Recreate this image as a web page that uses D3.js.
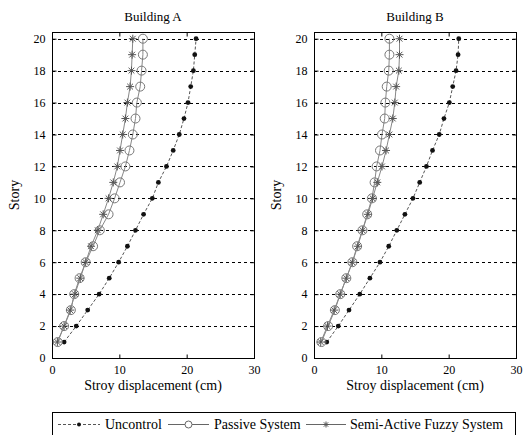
<!DOCTYPE html>
<html>
<head>
<meta charset="utf-8">
<script src="https://cdn.jsdelivr.net/npm/d3@7"></script>
<style>
  body { margin: 0; background: #fff; }
</style>
</head>
<body>
<div id="chart"></div>
<script>
// story levels 1..20
const stories = [1, 2, 3, 4, 5, 6, 7, 8, 9, 10, 11, 12, 13, 14, 15, 16, 17, 18, 19, 20];

// Building A displacements (cm)
const uncontrolA = [1.8, 3.6, 5.3, 7.0, 8.5, 9.9, 11.2, 12.4, 13.6, 14.9, 15.8, 17.0, 18.0, 18.9, 19.6, 20.2, 20.6, 21.0, 21.2, 21.4];
const passiveA   = [0.85, 1.8, 2.8, 3.3, 4.1, 5.0, 6.1, 7.1, 8.4, 9.3, 10.1, 10.9, 11.5, 12.0, 12.4, 12.6, 13.1, 13.3, 13.5, 13.5];
const fuzzyA     = [0.8, 1.8, 2.7, 3.4, 4.2, 5.0, 5.8, 6.8, 7.6, 8.4, 9.1, 9.7, 10.1, 10.5, 10.9, 11.2, 11.6, 11.8, 11.9, 12.0];

// Building B displacements (cm)
const uncontrolB = [1.9, 3.6, 5.2, 6.8, 8.3, 9.8, 11.1, 12.3, 13.5, 14.7, 15.7, 16.7, 17.6, 18.6, 19.3, 20.1, 20.6, 21.1, 21.4, 21.5];
const passiveB   = [1.1, 2.1, 3.1, 3.9, 4.8, 5.7, 6.4, 7.2, 7.9, 8.6, 9.0, 9.3, 9.8, 10.1, 10.5, 10.6, 10.8, 11.1, 11.2, 11.2];
const fuzzyB     = [1.0, 2.0, 3.0, 3.9, 4.8, 5.7, 6.5, 7.2, 8.0, 8.7, 9.4, 10.1, 10.7, 11.2, 11.7, 12.0, 12.2, 12.6, 12.7, 12.7];

const xTicks = [0, 10, 20, 30];
const yTicks = [0, 2, 4, 6, 8, 10, 12, 14, 16, 18, 20];
const gridTicks = [2, 4, 6, 8, 10, 12, 14, 16, 18, 20];
const legendLabels = ["Uncontrol", "Passive System", "Semi-Active Fuzzy System"];

const FONT = "Liberation Serif";

const svg = d3.select("#chart").append("svg")
    .attr("width", 528)
    .attr("height", 435)
    .attr("font-family", FONT);

// star marker (matlab '*')
function starPath(s) {
    const d = s * 0.72;
    return `M${-s},0L${s},0M0,${-s}L0,${s}M${-d},${-d}L${d},${d}M${-d},${d}L${d},${-d}`;
}

function styleAxis(a) {
    a.attr("font-family", FONT).attr("font-size", 12);
    a.select(".domain").remove();
    a.selectAll(".tick text").attr("fill", "#000");
}

function drawPanel(left, title, unc, pas, fuz) {
    const top = 32, bottom = 358, width = 202;
    const x = d3.scaleLinear().domain([0, 30]).range([left, left + width]);
    const y = d3.scaleLinear().domain([0, 20.42]).range([bottom, top]);

    const g = svg.append("g");

    // horizontal dashed grid
    g.selectAll("line.grid")
        .data(gridTicks)
        .join("line")
        .attr("x1", x(0)).attr("x2", x(30))
        .attr("y1", d => Math.round(y(d)) + 0.5)
        .attr("y2", d => Math.round(y(d)) + 0.5)
        .attr("stroke", "#000")
        .attr("stroke-dasharray", "3,3");

    // axes (ticks inward, matlab style)
    g.append("g")
        .attr("transform", `translate(0,${bottom + 0.5})`)
        .call(d3.axisBottom(x).tickValues(xTicks).tickSizeInner(-4).tickSizeOuter(0).tickPadding(7))
        .call(styleAxis);
    g.append("g")
        .attr("transform", `translate(0,${top + 0.5})`)
        .call(d3.axisTop(x).tickValues(xTicks).tickSizeInner(-4).tickSizeOuter(0).tickFormat(""))
        .call(styleAxis);
    g.append("g")
        .attr("transform", `translate(${left + 0.5},0)`)
        .call(d3.axisLeft(y).tickValues(yTicks).tickSizeInner(-4).tickSizeOuter(0).tickPadding(7))
        .call(styleAxis);
    g.append("g")
        .attr("transform", `translate(${left + width + 0.5},0)`)
        .call(d3.axisRight(y).tickValues(yTicks).tickSizeInner(-4).tickSizeOuter(0).tickFormat(""))
        .call(styleAxis);

    // frame
    g.append("rect")
        .attr("x", left + 0.5).attr("y", top + 0.5)
        .attr("width", width).attr("height", bottom - top)
        .attr("fill", "none").attr("stroke", "#000");

    const line = d3.line().x(d => x(d[0])).y(d => y(d[1]));

    // uncontrol
    const u = unc.map((v, i) => [v, stories[i]]);
    g.append("path").datum(u).attr("d", line)
        .attr("fill", "none").attr("stroke", "#555").attr("stroke-dasharray", "3,2");
    g.selectAll("circle.unc").data(u).join("circle")
        .attr("cx", d => x(d[0])).attr("cy", d => y(d[1]))
        .attr("r", 2.4).attr("fill", "#111");

    // passive
    const p = pas.map((v, i) => [v, stories[i]]);
    g.append("path").datum(p).attr("d", line)
        .attr("fill", "none").attr("stroke", "#888");
    g.selectAll("circle.pas").data(p).join("circle")
        .attr("cx", d => x(d[0])).attr("cy", d => y(d[1]))
        .attr("r", 4.5).attr("fill", "none").attr("stroke", "#777");

    // semi-active fuzzy
    const f = fuz.map((v, i) => [v, stories[i]]);
    g.append("path").datum(f).attr("d", line)
        .attr("fill", "none").attr("stroke", "#888");
    g.selectAll("path.fuz").data(f).join("path")
        .attr("transform", d => `translate(${x(d[0])},${y(d[1])})`)
        .attr("d", starPath(4))
        .attr("stroke", "#555").attr("fill", "none");

    // titles and labels
    g.append("text")
        .attr("x", left + width / 2).attr("y", 21)
        .attr("text-anchor", "middle").attr("font-size", 13)
        .text(title);
    g.append("text")
        .attr("x", left + width / 2).attr("y", 390)
        .attr("text-anchor", "middle").attr("font-size", 14)
        .text("Stroy displacement (cm)");
    g.append("text")
        .attr("transform", `translate(${left - 33},${(top + bottom) / 2}) rotate(-90)`)
        .attr("text-anchor", "middle").attr("font-size", 14)
        .text("Story");
}

drawPanel(52, "Building A", uncontrolA, passiveA, fuzzyA);
drawPanel(314, "Building B", uncontrolB, passiveB, fuzzyB);

// legend
const leg = svg.append("g");
leg.append("rect")
    .attr("x", 52.5).attr("y", 412.5)
    .attr("width", 463).attr("height", 40)
    .attr("fill", "#fff").attr("stroke", "#000");

const ly = 424.5;
const items = [
    { x0: 58, x1: 100, tx: 105 },
    { x0: 168, x1: 209, tx: 214 },
    { x0: 306, x1: 346, tx: 350 }
];

// uncontrol sample
leg.append("line").attr("x1", items[0].x0).attr("x2", items[0].x1).attr("y1", ly).attr("y2", ly)
    .attr("stroke", "#555").attr("stroke-dasharray", "3,2");
leg.append("circle").attr("cx", (items[0].x0 + items[0].x1) / 2).attr("cy", ly).attr("r", 2).attr("fill", "#111");
// passive sample
leg.append("line").attr("x1", items[1].x0).attr("x2", items[1].x1).attr("y1", ly).attr("y2", ly)
    .attr("stroke", "#666");
leg.append("circle").attr("cx", (items[1].x0 + items[1].x1) / 2).attr("cy", ly).attr("r", 3.5)
    .attr("fill", "#fff").attr("stroke", "#666");
// fuzzy sample
leg.append("line").attr("x1", items[2].x0).attr("x2", items[2].x1).attr("y1", ly).attr("y2", ly)
    .attr("stroke", "#666");
leg.append("path").attr("transform", `translate(${(items[2].x0 + items[2].x1) / 2},${ly})`)
    .attr("d", starPath(3)).attr("stroke", "#555");

leg.selectAll("text.lab").data(legendLabels).join("text")
    .attr("x", (d, i) => items[i].tx).attr("y", ly + 4.5)
    .attr("font-size", 14)
    .text(d => d);
</script>
</body>
</html>
